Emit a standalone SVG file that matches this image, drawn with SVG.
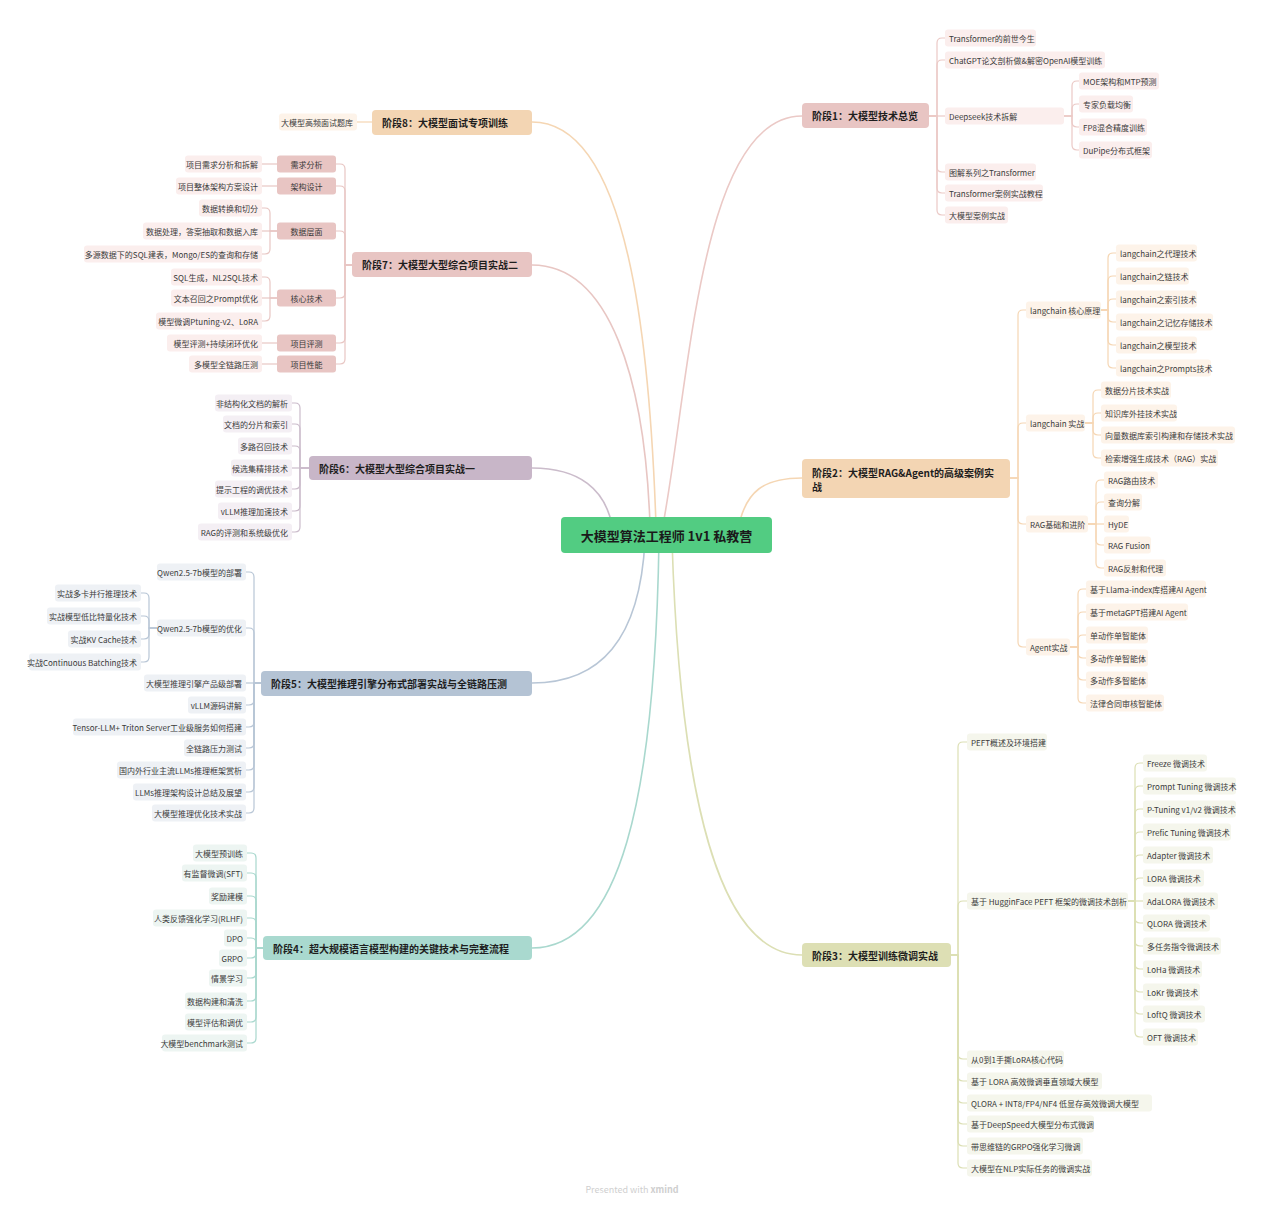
<svg xmlns="http://www.w3.org/2000/svg" width="1265" height="1206" viewBox="0 0 1265 1206">
<style>
text{font-family:"Noto Sans CJK SC","Noto Sans",sans-serif;font-size:8px;fill:#3a3a3a;dominant-baseline:central}
.s{font-size:10px;font-weight:bold;fill:#1e1e1e}
.c{font-size:13px;font-weight:bold;fill:#1a1a1a;text-anchor:middle}
.e{text-anchor:end}
.m{text-anchor:middle}
.wm{font-size:9px;fill:#cfcfcf;text-anchor:middle}
path{fill:none;stroke-width:1.2}
.main path{stroke-width:1.6}
.k1{stroke:#ebc9c6}.k2{stroke:#f5d6b3}.k3{stroke:#dcdfb4}.k4{stroke:#a9d8ce}.k5{stroke:#b8c6d6}.k6{stroke:#cbbccb}.k7{stroke:#e8c6c3}.k8{stroke:#f5d6b3}
.f1{fill:#fbeeed}.f2{fill:#fdf3e9}.f3{fill:#f5f6ec}.f4{fill:#edf5f2}.f5{fill:#eef1f5}.f6{fill:#f4eff4}.f7{fill:#fbeeed}
</style>
<rect width="1265" height="1206" fill="#ffffff"/>
<g id="connectors">
<g class="main">
<path class="k1" d="M663 525C690 380 700 116 802 116"/>
<path class="k8" d="M656 525C650 350 630 122 532 122"/>
<path class="k7" d="M650 525C645 380 610 265 532 265"/>
<path class="k6" d="M612 525C605 490 580 468 532 468"/>
<path class="k2" d="M738 530C745 490 765 478 802 478"/>
<path class="k5" d="M645 540C640 640 600 683 532 683"/>
<path class="k4" d="M659 540C655 800 620 948 532 948"/>
<path class="k3" d="M672 540C680 800 720 955 802 955"/>
</g>
<g class="k1">
<path d="M929 116H937V43Q937 38 942 38H945"/>
<path d="M929 116H937V65Q937 60 942 60H945"/>
<path d="M929 116H945"/>
<path d="M929 116H937V167Q937 172 942 172H945"/>
<path d="M929 116H937V188Q937 193 942 193H945"/>
<path d="M929 116H937V210Q937 215 942 215H945"/>
<path d="M1064 116H1072V86Q1072 81 1077 81H1079"/>
<path d="M1064 116H1072V109Q1072 104 1077 104H1079"/>
<path d="M1064 116H1072V122Q1072 127 1077 127H1079"/>
<path d="M1064 116H1072V145Q1072 150 1077 150H1079"/>
</g>
<g class="k2">
<path d="M1010 478H1018V315Q1018 310 1023 310H1026"/>
<path d="M1010 478H1018V428Q1018 423 1023 423H1026"/>
<path d="M1010 478H1018V519Q1018 524 1023 524H1026"/>
<path d="M1010 478H1018V642Q1018 647 1023 647H1026"/>
<path d="M1101 310H1108V258Q1108 253 1113 253H1116"/>
<path d="M1101 310H1108V281Q1108 276 1113 276H1116"/>
<path d="M1101 310H1108V304Q1108 299 1113 299H1116"/>
<path d="M1101 310H1108V317Q1108 322 1113 322H1116"/>
<path d="M1101 310H1108V340Q1108 345 1113 345H1116"/>
<path d="M1101 310H1108V363Q1108 368 1113 368H1116"/>
<path d="M1085 423H1093V395Q1093 390 1098 390H1101"/>
<path d="M1085 423H1093V418Q1093 413 1098 413H1101"/>
<path d="M1085 423H1093V430Q1093 435 1098 435H1101"/>
<path d="M1085 423H1093V453Q1093 458 1098 458H1101"/>
<path d="M1088 524H1096V485Q1096 480 1101 480H1104"/>
<path d="M1088 524H1096V507Q1096 502 1101 502H1104"/>
<path d="M1088 524H1104"/>
<path d="M1088 524H1096V540Q1096 545 1101 545H1104"/>
<path d="M1088 524H1096V563Q1096 568 1101 568H1104"/>
<path d="M1070 647H1078V594Q1078 589 1083 589H1086"/>
<path d="M1070 647H1078V617Q1078 612 1083 612H1086"/>
<path d="M1070 647H1078V640Q1078 635 1083 635H1086"/>
<path d="M1070 647H1078V653Q1078 658 1083 658H1086"/>
<path d="M1070 647H1078V675Q1078 680 1083 680H1086"/>
<path d="M1070 647H1078V698Q1078 703 1083 703H1086"/>
</g>
<g class="k3">
<path d="M951 955H958V747Q958 742 963 742H967"/>
<path d="M951 955H958V906Q958 901 963 901H967"/>
<path d="M951 955H958V1054Q958 1059 963 1059H967"/>
<path d="M951 955H958V1076Q958 1081 963 1081H967"/>
<path d="M951 955H958V1098Q958 1103 963 1103H967"/>
<path d="M951 955H958V1119Q958 1124 963 1124H967"/>
<path d="M951 955H958V1141Q958 1146 963 1146H967"/>
<path d="M951 955H958V1163Q958 1168 963 1168H967"/>
<path d="M1128 901H1135V768Q1135 763 1140 763H1143"/>
<path d="M1128 901H1135V791Q1135 786 1140 786H1143"/>
<path d="M1128 901H1135V814Q1135 809 1140 809H1143"/>
<path d="M1128 901H1135V837Q1135 832 1140 832H1143"/>
<path d="M1128 901H1135V860Q1135 855 1140 855H1143"/>
<path d="M1128 901H1135V883Q1135 878 1140 878H1143"/>
<path d="M1128 901H1143"/>
<path d="M1128 901H1135V918Q1135 923 1140 923H1143"/>
<path d="M1128 901H1135V941Q1135 946 1140 946H1143"/>
<path d="M1128 901H1135V964Q1135 969 1140 969H1143"/>
<path d="M1128 901H1135V987Q1135 992 1140 992H1143"/>
<path d="M1128 901H1135V1009Q1135 1014 1140 1014H1143"/>
<path d="M1128 901H1135V1032Q1135 1037 1140 1037H1143"/>
</g>
<g class="k8">
<path d="M372 122H357"/>
</g>
<g class="k7">
<path d="M352 265H345V169Q345 164 340 164H336"/>
<path d="M352 265H345V191Q345 186 340 186H336"/>
<path d="M352 265H345V236Q345 231 340 231H336"/>
<path d="M352 265H345V293Q345 298 340 298H336"/>
<path d="M352 265H345V338Q345 343 340 343H336"/>
<path d="M352 265H345V359Q345 364 340 364H336"/>
<path d="M277 164H262"/>
<path d="M277 186H262"/>
<path d="M277 231H270V213Q270 208 265 208H262"/>
<path d="M277 231H262"/>
<path d="M277 231H270V249Q270 254 265 254H262"/>
<path d="M277 298H270V282Q270 277 265 277H262"/>
<path d="M277 298H262"/>
<path d="M277 298H270V316Q270 321 265 321H262"/>
<path d="M277 343H262"/>
<path d="M277 364H262"/>
</g>
<g class="k6">
<path d="M309 468H300V408Q300 403 295 403H292"/>
<path d="M309 468H300V429Q300 424 295 424H292"/>
<path d="M309 468H300V451Q300 446 295 446H292"/>
<path d="M309 468H292"/>
<path d="M309 468H300V484Q300 489 295 489H292"/>
<path d="M309 468H300V506Q300 511 295 511H292"/>
<path d="M309 468H300V527Q300 532 295 532H292"/>
</g>
<g class="k5">
<path d="M261 683H254V577Q254 572 249 572H246"/>
<path d="M261 683H254V633Q254 628 249 628H246"/>
<path d="M261 683H246"/>
<path d="M261 683H254V700Q254 705 249 705H246"/>
<path d="M261 683H254V722Q254 727 249 727H246"/>
<path d="M261 683H254V743Q254 748 249 748H246"/>
<path d="M261 683H254V765Q254 770 249 770H246"/>
<path d="M261 683H254V787Q254 792 249 792H246"/>
<path d="M261 683H254V808Q254 813 249 813H246"/>
<path d="M157 628H149V598Q149 593 144 593H141"/>
<path d="M157 628H149V621Q149 616 144 616H141"/>
<path d="M157 628H149V634Q149 639 144 639H141"/>
<path d="M157 628H149V657Q149 662 144 662H141"/>
</g>
<g class="k4">
<path d="M263 948H256V858Q256 853 251 853H247"/>
<path d="M263 948H256V878Q256 873 251 873H247"/>
<path d="M263 948H256V901Q256 896 251 896H247"/>
<path d="M263 948H256V923Q256 918 251 918H247"/>
<path d="M263 948H256V943Q256 938 251 938H247"/>
<path d="M263 948H256V953Q256 958 251 958H247"/>
<path d="M263 948H256V973Q256 978 251 978H247"/>
<path d="M263 948H256V996Q256 1001 251 1001H247"/>
<path d="M263 948H256V1017Q256 1022 251 1022H247"/>
<path d="M263 948H256V1038Q256 1043 251 1043H247"/>
</g>
</g>

<g id="center"><rect x="561" y="517" width="211" height="36" rx="4" fill="#52cc82"/><text class="c" x="666.5" y="535">大模型算法工程师 1v1 私教营</text></g>

<g id="stage1"><rect x="802" y="103" width="127" height="25" rx="4" fill="#e8c5c3"/><text class="s" x="812" y="115.5">阶段1：大模型技术总览</text></g>
<g id="s1-1"><rect class="f1" x="945" y="29.5" width="91" height="17" rx="3"/><text x="949" y="38">Transformer的前世今生</text></g>
<g id="s1-2"><rect class="f1" x="945" y="51.5" width="160" height="17" rx="3"/><text x="949" y="60">ChatGPT论文剖析做&amp;解密OpenAI模型训练</text></g>
<g id="s1-3"><rect class="f1" x="945" y="107.5" width="119" height="17" rx="3"/><text x="949" y="116">Deepseek技术拆解</text></g>
<g id="s1-3-1"><rect class="f1" x="1079" y="72.5" width="80" height="17" rx="3"/><text x="1083" y="81">MOE架构和MTP预测</text></g>
<g id="s1-3-2"><rect class="f1" x="1079" y="95.5" width="54" height="17" rx="3"/><text x="1083" y="104">专家负载均衡</text></g>
<g id="s1-3-3"><rect class="f1" x="1079" y="118.5" width="68" height="17" rx="3"/><text x="1083" y="127">FP8混合精度训练</text></g>
<g id="s1-3-4"><rect class="f1" x="1079" y="141.5" width="73" height="17" rx="3"/><text x="1083" y="150">DuPipe分布式框架</text></g>
<g id="s1-4"><rect class="f1" x="945" y="163.5" width="91" height="17" rx="3"/><text x="949" y="172">图解系列之Transformer</text></g>
<g id="s1-5"><rect class="f1" x="945" y="184.5" width="98" height="17" rx="3"/><text x="949" y="193">Transformer案例实战教程</text></g>
<g id="s1-6"><rect class="f1" x="945" y="206.5" width="63" height="17" rx="3"/><text x="949" y="215">大模型案例实战</text></g>

<g id="stage2"><rect x="802" y="459" width="208" height="39" rx="4" fill="#f3d5b3"/><text class="s" x="812" y="472">阶段2：大模型RAG&amp;Agent的高级案例实</text><text class="s" x="812" y="486">战</text></g>
<g id="s2-1"><rect class="f2" x="1026" y="301.5" width="75" height="17" rx="3"/><text x="1030" y="310">langchain 核心原理</text></g>
<g id="s2-1-1"><rect class="f2" x="1116" y="244.5" width="81" height="17" rx="3"/><text x="1120" y="253">langchain之代理技术</text></g>
<g id="s2-1-2"><rect class="f2" x="1116" y="267.5" width="73" height="17" rx="3"/><text x="1120" y="276">langchain之链技术</text></g>
<g id="s2-1-3"><rect class="f2" x="1116" y="290.5" width="81" height="17" rx="3"/><text x="1120" y="299">langchain之索引技术</text></g>
<g id="s2-1-4"><rect class="f2" x="1116" y="313.5" width="97" height="17" rx="3"/><text x="1120" y="322">langchain之记忆存储技术</text></g>
<g id="s2-1-5"><rect class="f2" x="1116" y="336.5" width="81" height="17" rx="3"/><text x="1120" y="345">langchain之模型技术</text></g>
<g id="s2-1-6"><rect class="f2" x="1116" y="359.5" width="95" height="17" rx="3"/><text x="1120" y="368">langchain之Prompts技术</text></g>
<g id="s2-2"><rect class="f2" x="1026" y="414.5" width="59" height="17" rx="3"/><text x="1030" y="423">langchain 实战</text></g>
<g id="s2-2-1"><rect class="f2" x="1101" y="381.5" width="70" height="17" rx="3"/><text x="1105" y="390">数据分片技术实战</text></g>
<g id="s2-2-2"><rect class="f2" x="1101" y="404.5" width="76" height="17" rx="3"/><text x="1105" y="413">知识库外挂技术实战</text></g>
<g id="s2-2-3"><rect class="f2" x="1101" y="426.5" width="134" height="17" rx="3"/><text x="1105" y="435">向量数据库索引构建和存储技术实战</text></g>
<g id="s2-2-4"><rect class="f2" x="1101" y="449.5" width="117" height="17" rx="3"/><text x="1105" y="458">检索增强生成技术（RAG）实战</text></g>
<g id="s2-3"><rect class="f2" x="1026" y="515.5" width="62" height="17" rx="3"/><text x="1030" y="524">RAG基础和进阶</text></g>
<g id="s2-3-1"><rect class="f2" x="1104" y="471.5" width="54" height="17" rx="3"/><text x="1108" y="480">RAG路由技术</text></g>
<g id="s2-3-2"><rect class="f2" x="1104" y="493.5" width="38" height="17" rx="3"/><text x="1108" y="502">查询分解</text></g>
<g id="s2-3-3"><rect class="f2" x="1104" y="515.5" width="25" height="17" rx="3"/><text x="1108" y="524">HyDE</text></g>
<g id="s2-3-4"><rect class="f2" x="1104" y="536.5" width="47" height="17" rx="3"/><text x="1108" y="545">RAG Fusion</text></g>
<g id="s2-3-5"><rect class="f2" x="1104" y="559.5" width="62" height="17" rx="3"/><text x="1108" y="568">RAG反射和代理</text></g>
<g id="s2-4"><rect class="f2" x="1026" y="638.5" width="44" height="17" rx="3"/><text x="1030" y="647">Agent实战</text></g>
<g id="s2-4-1"><rect class="f2" x="1086" y="580.5" width="120" height="17" rx="3"/><text x="1090" y="589">基于Llama-index库搭建AI Agent</text></g>
<g id="s2-4-2"><rect class="f2" x="1086" y="603.5" width="102" height="17" rx="3"/><text x="1090" y="612">基于metaGPT搭建AI Agent</text></g>
<g id="s2-4-3"><rect class="f2" x="1086" y="626.5" width="62" height="17" rx="3"/><text x="1090" y="635">单动作单智能体</text></g>
<g id="s2-4-4"><rect class="f2" x="1086" y="649.5" width="62" height="17" rx="3"/><text x="1090" y="658">多动作单智能体</text></g>
<g id="s2-4-5"><rect class="f2" x="1086" y="671.5" width="62" height="17" rx="3"/><text x="1090" y="680">多动作多智能体</text></g>
<g id="s2-4-6"><rect class="f2" x="1086" y="694.5" width="78" height="17" rx="3"/><text x="1090" y="703">法律合同审核智能体</text></g>

<g id="stage3"><rect x="802" y="943" width="149" height="24" rx="4" fill="#dddfb4"/><text class="s" x="812" y="955">阶段3：大模型训练微调实战</text></g>
<g id="s3-1"><rect class="f3" x="967" y="733.5" width="80" height="17" rx="3"/><text x="971" y="742">PEFT概述及环境搭建</text></g>
<g id="s3-2"><rect class="f3" x="967" y="892.5" width="161" height="17" rx="3"/><text x="971" y="901">基于 HugginFace PEFT 框架的微调技术剖析</text></g>
<g id="s3-2-1"><rect class="f3" x="1143" y="754.5" width="64" height="17" rx="3"/><text x="1147" y="763">Freeze 微调技术</text></g>
<g id="s3-2-2"><rect class="f3" x="1143" y="777.5" width="93" height="17" rx="3"/><text x="1147" y="786">Prompt Tuning 微调技术</text></g>
<g id="s3-2-3"><rect class="f3" x="1143" y="800.5" width="93" height="17" rx="3"/><text x="1147" y="809">P-Tuning v1/v2 微调技术</text></g>
<g id="s3-2-4"><rect class="f3" x="1143" y="823.5" width="88" height="17" rx="3"/><text x="1147" y="832">Prefic Tuning 微调技术</text></g>
<g id="s3-2-5"><rect class="f3" x="1143" y="846.5" width="70" height="17" rx="3"/><text x="1147" y="855">Adapter 微调技术</text></g>
<g id="s3-2-6"><rect class="f3" x="1143" y="869.5" width="61" height="17" rx="3"/><text x="1147" y="878">LORA 微调技术</text></g>
<g id="s3-2-7"><rect class="f3" x="1143" y="892.5" width="75" height="17" rx="3"/><text x="1147" y="901">AdaLORA 微调技术</text></g>
<g id="s3-2-8"><rect class="f3" x="1143" y="914.5" width="67" height="17" rx="3"/><text x="1147" y="923">QLORA 微调技术</text></g>
<g id="s3-2-9"><rect class="f3" x="1143" y="937.5" width="78" height="17" rx="3"/><text x="1147" y="946">多任务指令微调技术</text></g>
<g id="s3-2-10"><rect class="f3" x="1143" y="960.5" width="59" height="17" rx="3"/><text x="1147" y="969">LoHa 微调技术</text></g>
<g id="s3-2-11"><rect class="f3" x="1143" y="983.5" width="57" height="17" rx="3"/><text x="1147" y="992">LoKr 微调技术</text></g>
<g id="s3-2-12"><rect class="f3" x="1143" y="1005.5" width="62" height="17" rx="3"/><text x="1147" y="1014">LoftQ 微调技术</text></g>
<g id="s3-2-13"><rect class="f3" x="1143" y="1028.5" width="55" height="17" rx="3"/><text x="1147" y="1037">OFT 微调技术</text></g>
<g id="s3-3"><rect class="f3" x="967" y="1050.5" width="97" height="17" rx="3"/><text x="971" y="1059">从0到1手撕LoRA核心代码</text></g>
<g id="s3-4"><rect class="f3" x="967" y="1072.5" width="135" height="17" rx="3"/><text x="971" y="1081">基于 LORA 高效微调垂直领域大模型</text></g>
<g id="s3-5"><rect class="f3" x="967" y="1094.5" width="185" height="17" rx="3"/><text x="971" y="1103">QLORA + INT8/FP4/NF4 低显存高效微调大模型</text></g>
<g id="s3-6"><rect class="f3" x="967" y="1115.5" width="127" height="17" rx="3"/><text x="971" y="1124">基于DeepSpeed大模型分布式微调</text></g>
<g id="s3-7"><rect class="f3" x="967" y="1137.5" width="116" height="17" rx="3"/><text x="971" y="1146">带思维链的GRPO强化学习微调</text></g>
<g id="s3-8"><rect class="f3" x="967" y="1159.5" width="125" height="17" rx="3"/><text x="971" y="1168">大模型在NLP实际任务的微调实战</text></g>

<g id="stage8"><rect x="372" y="110" width="160" height="25" rx="4" fill="#f3d5b3"/><text class="s" x="382" y="122.5">阶段8：大模型面试专项训练</text></g>
<g id="s8-1"><rect class="f2" x="279" y="113.5" width="78" height="17" rx="3"/><text class="e" x="353" y="122">大模型高频面试题库</text></g>

<g id="stage7"><rect x="352" y="252" width="180" height="25" rx="4" fill="#e8c5c3"/><text class="s" x="362" y="264.5">阶段7：大模型大型综合项目实战二</text></g>
<g id="s7-1"><rect x="277" y="155.5" width="59" height="17" rx="3" fill="#e8c5c3"/><text class="m" x="306.5" y="164">需求分析</text></g>
<g id="s7-2"><rect x="277" y="177.5" width="59" height="17" rx="3" fill="#e8c5c3"/><text class="m" x="306.5" y="186">架构设计</text></g>
<g id="s7-3"><rect x="277" y="222.5" width="59" height="17" rx="3" fill="#e8c5c3"/><text class="m" x="306.5" y="231">数据层面</text></g>
<g id="s7-4"><rect x="277" y="289.5" width="59" height="17" rx="3" fill="#e8c5c3"/><text class="m" x="306.5" y="298">核心技术</text></g>
<g id="s7-5"><rect x="277" y="334.5" width="59" height="17" rx="3" fill="#e8c5c3"/><text class="m" x="306.5" y="343">项目评测</text></g>
<g id="s7-6"><rect x="277" y="355.5" width="59" height="17" rx="3" fill="#e8c5c3"/><text class="m" x="306.5" y="364">项目性能</text></g>
<g id="s7-1-1"><rect class="f7" x="185" y="155.5" width="77" height="17" rx="3"/><text class="e" x="258" y="164">项目需求分析和拆解</text></g>
<g id="s7-2-1"><rect class="f7" x="176" y="177.5" width="86" height="17" rx="3"/><text class="e" x="258" y="186">项目整体架构方案设计</text></g>
<g id="s7-3-1"><rect class="f7" x="199" y="199.5" width="63" height="17" rx="3"/><text class="e" x="258" y="208">数据转换和切分</text></g>
<g id="s7-3-2"><rect class="f7" x="143" y="222.5" width="119" height="17" rx="3"/><text class="e" x="258" y="231">数据处理，答案抽取和数据入库</text></g>
<g id="s7-3-3"><rect class="f7" x="84" y="245.5" width="178" height="17" rx="3"/><text class="e" x="258" y="254">多源数据下的SQL建表，Mongo/ES的查询和存储</text></g>
<g id="s7-4-1"><rect class="f7" x="171" y="268.5" width="91" height="17" rx="3"/><text class="e" x="258" y="277">SQL生成，NL2SQL技术</text></g>
<g id="s7-4-2"><rect class="f7" x="171" y="289.5" width="91" height="17" rx="3"/><text class="e" x="258" y="298">文本召回之Prompt优化</text></g>
<g id="s7-4-3"><rect class="f7" x="156" y="312.5" width="106" height="17" rx="3"/><text class="e" x="258" y="321">模型微调Ptuning-v2、LoRA</text></g>
<g id="s7-5-1"><rect class="f7" x="167" y="334.5" width="95" height="17" rx="3"/><text class="e" x="258" y="343">模型评测+持续闭环优化</text></g>
<g id="s7-6-1"><rect class="f7" x="189" y="355.5" width="73" height="17" rx="3"/><text class="e" x="258" y="364">多模型全链路压测</text></g>

<g id="stage6"><rect x="309" y="456" width="223" height="24" rx="4" fill="#c8b6c8"/><text class="s" x="319" y="468">阶段6：大模型大型综合项目实战一</text></g>
<g id="s6-1"><rect class="f6" x="215" y="394.5" width="77" height="17" rx="3"/><text class="e" x="288" y="403">非结构化文档的解析</text></g>
<g id="s6-2"><rect class="f6" x="223" y="415.5" width="69" height="17" rx="3"/><text class="e" x="288" y="424">文档的分片和索引</text></g>
<g id="s6-3"><rect class="f6" x="238" y="437.5" width="54" height="17" rx="3"/><text class="e" x="288" y="446">多路召回技术</text></g>
<g id="s6-4"><rect class="f6" x="231" y="459.5" width="61" height="17" rx="3"/><text class="e" x="288" y="468">候选集精排技术</text></g>
<g id="s6-5"><rect class="f6" x="215" y="480.5" width="77" height="17" rx="3"/><text class="e" x="288" y="489">提示工程的调优技术</text></g>
<g id="s6-6"><rect class="f6" x="218" y="502.5" width="74" height="17" rx="3"/><text class="e" x="288" y="511">vLLM推理加速技术</text></g>
<g id="s6-7"><rect class="f6" x="198" y="523.5" width="94" height="17" rx="3"/><text class="e" x="288" y="532">RAG的评测和系统级优化</text></g>

<g id="stage5"><rect x="261" y="671" width="271" height="25" rx="4" fill="#b4c3d4"/><text class="s" x="271" y="683.5">阶段5：大模型推理引擎分布式部署实战与全链路压测</text></g>
<g id="s5-1"><rect class="f5" x="157" y="563.5" width="89" height="17" rx="3"/><text class="e" x="242" y="572">Qwen2.5-7b模型的部署</text></g>
<g id="s5-2"><rect class="f5" x="157" y="619.5" width="89" height="17" rx="3"/><text class="e" x="242" y="628">Qwen2.5-7b模型的优化</text></g>
<g id="s5-2-1"><rect class="f5" x="55" y="584.5" width="86" height="17" rx="3"/><text class="e" x="137" y="593">实战多卡并行推理技术</text></g>
<g id="s5-2-2"><rect class="f5" x="47" y="607.5" width="94" height="17" rx="3"/><text class="e" x="137" y="616">实战模型低比特量化技术</text></g>
<g id="s5-2-3"><rect class="f5" x="68" y="630.5" width="73" height="17" rx="3"/><text class="e" x="137" y="639">实战KV Cache技术</text></g>
<g id="s5-2-4"><rect class="f5" x="29" y="653.5" width="112" height="17" rx="3"/><text class="e" x="137" y="662">实战Continuous Batching技术</text></g>
<g id="s5-3"><rect class="f5" x="144" y="674.5" width="102" height="17" rx="3"/><text class="e" x="242" y="683">大模型推理引擎产品级部署</text></g>
<g id="s5-4"><rect class="f5" x="188" y="696.5" width="58" height="17" rx="3"/><text class="e" x="242" y="705">vLLM源码讲解</text></g>
<g id="s5-5"><rect class="f5" x="73" y="718.5" width="173" height="17" rx="3"/><text class="e" x="242" y="727">Tensor-LLM+ Triton Server工业级服务如何搭建</text></g>
<g id="s5-6"><rect class="f5" x="184" y="739.5" width="62" height="17" rx="3"/><text class="e" x="242" y="748">全链路压力测试</text></g>
<g id="s5-7"><rect class="f5" x="117" y="761.5" width="129" height="17" rx="3"/><text class="e" x="242" y="770">国内外行业主流LLMs推理框架赏析</text></g>
<g id="s5-8"><rect class="f5" x="133" y="783.5" width="113" height="17" rx="3"/><text class="e" x="242" y="792">LLMs推理架构设计总结及展望</text></g>
<g id="s5-9"><rect class="f5" x="152" y="804.5" width="94" height="17" rx="3"/><text class="e" x="242" y="813">大模型推理优化技术实战</text></g>

<g id="stage4"><rect x="263" y="936" width="269" height="24" rx="4" fill="#a9d9cf"/><text class="s" x="273" y="948">阶段4：超大规模语言模型构建的关键技术与完整流程</text></g>
<g id="s4-1"><rect class="f4" x="193" y="844.5" width="54" height="17" rx="3"/><text class="e" x="243" y="853">大模型预训练</text></g>
<g id="s4-2"><rect class="f4" x="182" y="864.5" width="65" height="17" rx="3"/><text class="e" x="243" y="873">有监督微调(SFT)</text></g>
<g id="s4-3"><rect class="f4" x="209" y="887.5" width="38" height="17" rx="3"/><text class="e" x="243" y="896">奖励建模</text></g>
<g id="s4-4"><rect class="f4" x="153" y="909.5" width="94" height="17" rx="3"/><text class="e" x="243" y="918">人类反馈强化学习(RLHF)</text></g>
<g id="s4-5"><rect class="f4" x="224" y="929.5" width="23" height="17" rx="3"/><text class="e" x="243" y="938">DPO</text></g>
<g id="s4-6"><rect class="f4" x="219" y="949.5" width="28" height="17" rx="3"/><text class="e" x="243" y="958">GRPO</text></g>
<g id="s4-7"><rect class="f4" x="209" y="969.5" width="38" height="17" rx="3"/><text class="e" x="243" y="978">情景学习</text></g>
<g id="s4-8"><rect class="f4" x="185" y="992.5" width="62" height="17" rx="3"/><text class="e" x="243" y="1001">数据构建和清洗</text></g>
<g id="s4-9"><rect class="f4" x="185" y="1013.5" width="62" height="17" rx="3"/><text class="e" x="243" y="1022">模型评估和调优</text></g>
<g id="s4-10"><rect class="f4" x="162" y="1034.5" width="85" height="17" rx="3"/><text class="e" x="243" y="1043">大模型benchmark测试</text></g>

<text class="wm" x="632" y="1189">Presented with <tspan font-weight="bold">xmind</tspan></text>
</svg>
